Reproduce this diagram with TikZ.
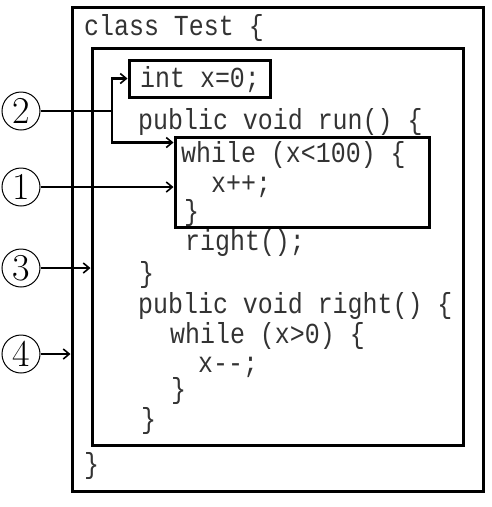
\documentclass[tikz,border=0pt]{standalone}
\usepackage{fontspec}
\usetikzlibrary{arrows.meta}
\newfontfamily\codefont[FakeStretch=0.86]{Liberation Mono}

\begin{document}
\begin{tikzpicture}[x=1pt, y=-1pt,
  box/.style={rectangle, draw, line width=3pt, inner sep=0pt},
  num/.style={circle, draw, line width=1pt, minimum size=38pt, inner sep=0pt,
              font=\fontsize{38}{38}\selectfont},
  code/.style={anchor=base west, inner sep=0pt, text=black!80,
               font=\codefont\fontsize{29}{29}\selectfont},
  arr/.style={line width=2.2pt, -{Straight Barb[length=6pt, width=10pt, line width=1.6pt]}},
  link/.style={line width=2.2pt},
]
\useasboundingbox (0,0) rectangle (492,507);
% the four nested scopes
\node[box, minimum width=411pt, minimum height=484pt] (classbox) at (277.5, 249) {};
\node[box, minimum width=371pt, minimum height=397pt] (methodbox) at (277.5, 246.5) {};
\node[box, minimum width=141pt, minimum height=37pt] (fieldbox) at (199.5, 78.5) {};
\node[box, minimum width=254pt, minimum height=90pt] (loopbox) at (302, 182) {};
% source lines
\node[code] (l1) at (84, 35) {class Test \{};
\node[code] (l2) at (140, 87) {int x=0;};
\node[code] (l3) at (138, 129) {public void run() \{};
\node[code] (l4) at (181, 162) {while (x<100) \{};
\node[code] (l5) at (211, 192) {x++;};
\node[code] (l6) at (184, 220) {\}};
\node[code] (l7) at (185, 250) {right();};
\node[code] (l8) at (139, 282) {\}};
\node[code] (l9) at (138, 313) {public void right() \{};
\node[code] (l10) at (170, 343) {while (x>0) \{};
\node[code] (l11) at (198, 372) {x--;};
\node[code] (l12) at (171, 398) {\}};
\node[code] (l13) at (141, 428) {\}};
\node[code] (l14) at (84, 473) {\}};
% markers
\node[num] (n2) at (21, 111) {2};
\node[num] (n1) at (21, 187) {1};
\node[num] (n3) at (21, 268) {3};
\node[num] (n4) at (21, 354) {4};
\coordinate (j2) at (112, 111);
% arrows
\draw[link] (n2.east) -- (j2);
\draw[arr] (j2) |- (fieldbox.west);
\draw[arr] (j2) |- ([yshift=-7pt]loopbox.north west);
\draw[arr] (n1.east) -- (loopbox.west |- n1);
\draw[arr] (n3.east) -- (methodbox.west |- n3);
\draw[arr] (n4.east) -- (classbox.west |- n4);
\end{tikzpicture}
\end{document}
